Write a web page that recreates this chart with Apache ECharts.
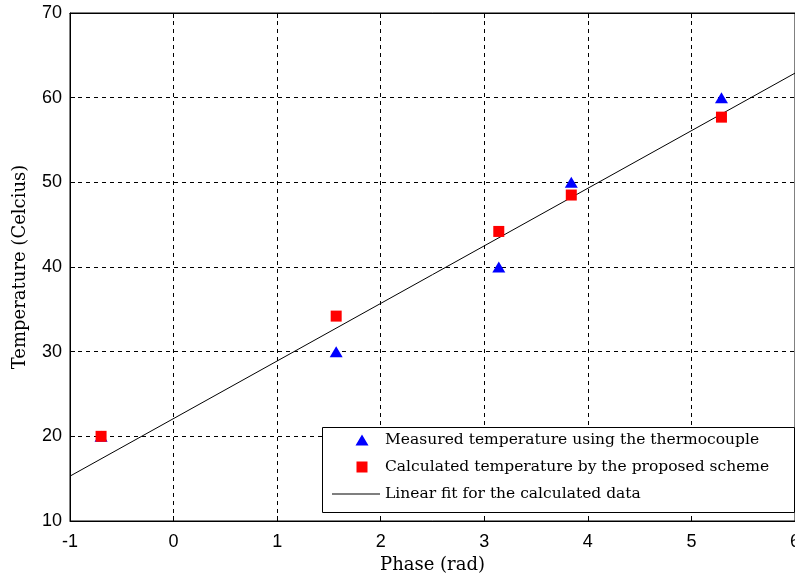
<!DOCTYPE html>
<html><head><meta charset="utf-8">
<script src="https://cdn.jsdelivr.net/npm/echarts@6/dist/echarts.min.js"></script>
<style>html,body{margin:0;padding:0;background:#fff}#c{width:795px;height:577px}</style>
</head><body><div id="c"></div>
<script>
const xTicks = [-1, 0, 1, 2, 3, 4, 5, 6];
const yTicks = [10, 20, 30, 40, 50, 60, 70];
const measuredX = [-0.7, 1.57, 3.14, 3.84, 5.29];
const measuredY = [20, 30, 40, 50, 60];
const calcX = [-0.7, 1.57, 3.14, 3.84, 5.29];
const calcY = [20, 34.2, 44.2, 48.5, 57.7];
const fitX = [-1, 6];
const fitY = [15.3, 62.9];
const names = ['Measured temperature using the thermocouple', 'Calculated temperature by the proposed scheme', 'Linear fit for the calculated data'];

const serif = 'DejaVu Serif';
const sans = 'Liberation Sans';
const zip = (a, b) => a.map((v, i) => [v, b[i]]);
const box = 'M0,0 L0,0 Z M48,12 L48,12 Z ';
const triIcon = 'path://' + box + 'M23.5,11.5 L30,0.5 L36.5,11.5 Z';
const rectIcon = 'path://' + box + 'M24.5,0.5 L35.5,0.5 L35.5,11.5 L24.5,11.5 Z';
const lineIcon = 'path://' + box + 'M0,5.5 L48,5.5 L48,6.5 L0,6.5 Z';

const chart = echarts.init(document.getElementById('c'));
chart.setOption({
  animation: false,
  backgroundColor: '#fff',
  grid: { left: 70, right: 0, top: 13, bottom: 56, show: true, borderColor: '#000', borderWidth: 1,
          outerBoundsMode: 'none', containLabel: false },
  xAxis: [{
    type: 'value', min: xTicks[0], max: xTicks[xTicks.length - 1], interval: 1,
    name: 'Phase (rad)', nameLocation: 'middle', nameGap: 34,
    nameTextStyle: { fontFamily: serif, fontSize: 18, color: '#000' },
    axisLine: { onZero: false, lineStyle: { color: '#000' } },
    axisTick: { inside: true, length: 5, lineStyle: { color: '#000' } },
    axisLabel: { fontFamily: sans, fontSize: 18, color: '#000', margin: 12, hideOverlap: false },
    splitLine: { show: true, lineStyle: { color: '#000', type: [4, 4], width: 1 } }
  }, {
    type: 'value', position: 'top', min: xTicks[0], max: xTicks[xTicks.length - 1], interval: 1,
    axisLine: { onZero: false, lineStyle: { color: '#000' } },
    axisTick: { inside: true, length: 5, lineStyle: { color: '#000' } },
    axisLabel: { show: false }, splitLine: { show: false }
  }],
  yAxis: {
    type: 'value', min: yTicks[0], max: yTicks[yTicks.length - 1], interval: 10,
    name: 'Temperature (Celcius)', nameLocation: 'middle', nameGap: 41, nameRotate: 90,
    nameTextStyle: { fontFamily: serif, fontSize: 18, color: '#000' },
    axisLine: { show: true, onZero: false, lineStyle: { color: '#000' } },
    axisTick: { show: true, inside: true, length: 5, lineStyle: { color: '#000' } },
    axisLabel: { fontFamily: sans, fontSize: 18, color: '#000', margin: 8 },
    splitLine: { show: true, lineStyle: { color: '#000', type: [4, 4], width: 1 } }
  },
  legend: {
    orient: 'vertical', left: 332, top: 432, itemWidth: 48, itemHeight: 12, itemGap: 11,
    padding: 0, selectedMode: false, z: 5,
    textStyle: { fontFamily: serif, fontSize: 15.5, color: '#000' },
    data: [
      { name: names[0], icon: triIcon, itemStyle: { color: '#0000ff', opacity: 1 } },
      { name: names[1], icon: rectIcon, itemStyle: { color: '#ff0000', opacity: 1 } },
      { name: names[2], icon: lineIcon, itemStyle: { color: '#000', opacity: 1 } }
    ]
  },
  graphic: [{
    type: 'rect', left: 322, top: 427, z: 2,
    shape: { width: 472, height: 85 },
    style: { fill: '#fff', stroke: '#000', lineWidth: 1 }
  }],
  series: [
    { name: names[0], type: 'scatter', symbol: 'triangle', symbolSize: [13, 11],
      itemStyle: { color: '#0000ff', opacity: 1 }, data: zip(measuredX, measuredY), z: 3 },
    { name: names[1], type: 'scatter', symbol: 'rect', symbolSize: 11,
      itemStyle: { color: '#ff0000', opacity: 1 }, data: zip(calcX, calcY), z: 4 },
    { name: names[2], type: 'line', symbol: 'none', showSymbol: false, color: '#000',
      lineStyle: { color: '#000', width: 1 }, data: zip(fitX, fitY), z: 2 }
  ]
});
</script></body></html>
